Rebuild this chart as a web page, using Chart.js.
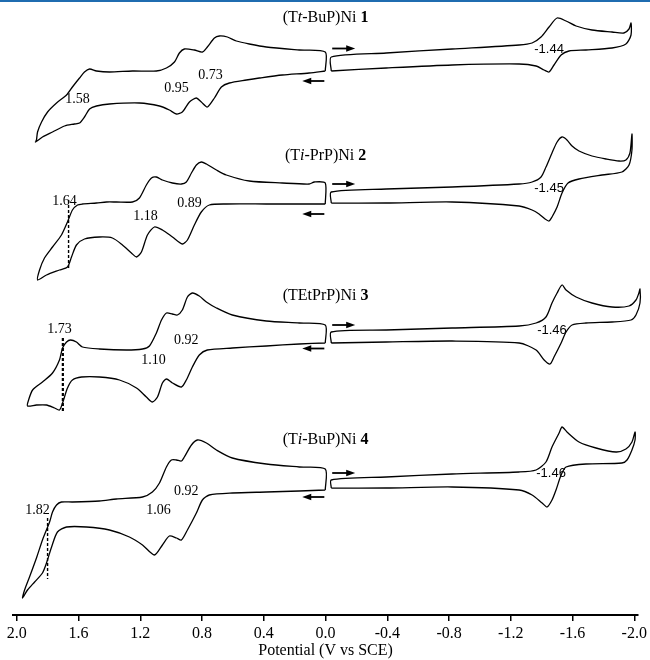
<!DOCTYPE html>
<html>
<head>
<meta charset="utf-8">
<script src="https://cdn.jsdelivr.net/npm/chart.js@4.4.0/dist/chart.umd.min.js"></script>
<style>
  html, body { margin: 0; padding: 0; background: #fff; }
  #wrap { width: 650px; height: 660px; }
</style>
</head>
<body>
<div id="wrap"><canvas id="cv" width="650" height="660"></canvas></div>
<script>
// potential axis ticks (V vs SCE)
const tickValues = [2.0, 1.6, 1.2, 0.8, 0.4, 0.0, -0.4, -0.8, -1.2, -1.6, -2.0];

// current is in arbitrary units, each trace stacked with its own offset
// (Tt-BuP)Ni 1
const t1OxE = [0.002,0.002,0.17,0.384,0.494,0.578,0.636,0.688,0.72,0.766,0.798,0.85,0.915,0.947,0.979,1.031,1.096,1.251,1.4,1.484,1.529,1.562,1.594,1.64,1.678,1.743,1.801,1.84,1.866,1.873,1.879,
  1.834,1.769,1.691,1.627,1.594,1.562,1.529,1.484,1.4,1.206,1.076,1.012,0.966,0.928,0.882,0.837,0.805,0.766,0.72,0.675,0.623,0.513,0.429,0.28,0.106,0.002];
const t1OxI = [54.4,56.3,56.5,56.8,57.1,57.4,57.8,57.9,57.7,56.8,56.3,56.5,56.6,56.2,55.3,54.7,54.4,54.4,54.3,54.4,54.6,54.3,53.7,52.8,52.0,51.2,50.3,49.3,48.3,47.5,47.3,
  47.8,48.3,48.9,49.1,49.2,49.8,50.6,50.9,51.1,51.2,50.9,50.5,50.1,50.3,51.3,51.7,51.3,50.8,51.7,52.8,53.2,53.5,53.7,54.0,54.2,54.4];
const t1RedE = [-0.037,-0.037,-0.393,-0.82,-1.254,-1.338,-1.396,-1.448,-1.5,-1.558,-1.623,-1.726,-1.856,-1.933,-1.966,-1.979,
  -1.979,-1.946,-1.856,-1.687,-1.577,-1.526,-1.48,-1.448,-1.416,-1.364,-1.254,-0.82,-0.393,-0.037];
const t1RedI = [54.4,55.8,56.2,56.6,57.0,57.2,57.8,58.8,59.7,59.4,58.9,58.5,58.3,58.2,58.6,59.2,
  58.0,57.1,56.7,56.5,56.4,56.0,55.0,54.3,54.5,54.9,55.1,55.0,54.7,54.4];

// (Ti-PrP)Ni 2
const t2OxE = [0.002,0.002,0.073,0.106,0.28,0.494,0.643,0.707,0.772,0.805,0.837,0.869,0.902,0.934,0.992,1.057,1.096,1.128,1.161,1.206,1.251,1.355,1.419,1.484,1.575,1.607,1.64,1.672,1.711,1.769,1.821,1.853,1.866,
  1.808,1.724,1.672,1.646,1.614,1.562,1.465,1.381,1.316,1.258,1.225,1.193,1.154,1.109,1.057,0.992,0.928,0.895,0.85,0.805,0.753,0.643,0.384,0.002];
const t2OxI = [41.1,43.2,43.3,43.1,43.2,43.4,44.0,44.5,45.1,45.3,45.0,44.2,43.3,43.1,43.2,43.5,43.8,43.7,43.0,41.7,41.3,41.3,41.3,41.2,41.1,41.0,40.5,39.3,38.0,36.8,35.7,34.5,33.5,
  34.0,34.5,34.8,35.8,37.0,37.6,37.8,37.7,37.0,36.2,35.8,36.3,38.0,38.8,38.5,37.8,37.1,37.5,39.0,40.3,41.0,41.1,41.1,41.1];
const t2RedE = [-0.037,-0.037,-0.393,-0.82,-1.254,-1.338,-1.396,-1.428,-1.467,-1.5,-1.532,-1.564,-1.597,-1.642,-1.726,-1.817,-1.901,-1.946,-1.972,-1.985,
  -1.985,-1.966,-1.92,-1.791,-1.642,-1.571,-1.532,-1.5,-1.467,-1.448,-1.422,-1.383,-1.338,-1.254,-0.82,-0.393,-0.037];
const t2RedI = [41.2,42.3,42.6,42.8,43.1,43.3,43.8,44.8,46.2,47.3,47.8,47.5,46.9,46.4,45.9,45.6,45.4,45.5,46.2,48.1,
  46.5,45.0,44.3,44.0,43.6,43.2,42.2,40.8,39.8,39.4,39.6,40.1,40.5,40.9,41.3,41.2,41.2];

// (TEtPrP)Ni 3
const t3OxE = [0.002,0.002,0.17,0.384,0.604,0.707,0.772,0.818,0.863,0.895,0.928,0.96,0.992,1.031,1.063,1.096,1.141,1.186,1.29,1.465,1.575,1.614,1.652,1.678,1.704,1.724,1.769,1.834,1.898,1.924,1.931,
  1.873,1.808,1.756,1.724,1.704,1.672,1.64,1.581,1.465,1.335,1.225,1.161,1.122,1.089,1.057,1.031,0.992,0.934,0.902,0.863,0.818,0.766,0.604,0.384,0.17,0.002];
const t3OxI = [27.2,29.0,29.2,29.4,30.0,30.7,31.3,31.9,32.2,31.8,30.5,30.0,30.1,30.2,29.5,28.2,26.9,26.6,26.5,26.6,26.8,27.3,27.5,27.3,26.7,25.5,24.2,23.3,22.5,21.5,20.9,
  21.0,21.0,20.7,20.5,21.2,22.7,23.5,23.8,23.8,23.5,22.7,21.8,21.3,21.8,23.2,23.6,23.2,22.8,23.5,24.8,26.0,26.5,26.7,26.9,27.1,27.2];
const t3RedE = [-0.037,-0.037,-0.393,-0.82,-1.254,-1.364,-1.428,-1.467,-1.5,-1.532,-1.558,-1.623,-1.726,-1.856,-1.966,-2.011,-2.03,-2.037,
  -2.037,-2.011,-1.979,-1.856,-1.687,-1.597,-1.558,-1.526,-1.48,-1.454,-1.416,-1.364,-1.254,-0.82,-0.393,-0.037];
const t3RedI = [27.2,28.3,28.5,28.7,28.9,29.2,29.8,31.2,32.2,33.0,32.5,31.8,31.2,30.8,30.9,31.5,32.2,32.6,
  31.2,30.0,29.5,29.3,29.2,29.0,28.3,27.2,25.8,25.1,25.5,26.5,27.2,27.4,27.3,27.2];

// (Ti-BuP)Ni 4
const t4OxE = [0.002,0.002,0.17,0.384,0.604,0.707,0.772,0.83,0.869,0.915,0.934,0.966,0.999,1.031,1.076,1.122,1.186,1.355,1.465,1.64,1.711,1.743,1.769,1.788,1.834,1.873,1.918,1.95,1.963,
  1.931,1.885,1.834,1.808,1.775,1.737,1.678,1.549,1.4,1.271,1.186,1.109,1.057,1.012,0.966,0.934,0.895,0.837,0.798,0.753,0.604,0.384,0.17,0.002];
const t4OxI = [12.5,14.6,14.8,15.1,15.7,16.5,17.2,17.5,17.0,15.8,15.4,15.5,15.5,14.8,13.2,12.3,11.8,11.6,11.4,11.3,11.3,11.0,10.3,9.3,7.5,5.7,3.8,2.5,1.7,
  2.5,3.3,4.2,5.2,6.8,8.3,8.8,8.8,8.5,7.8,7.0,6.0,7.0,7.9,7.7,7.5,8.5,10.2,11.5,12.0,12.2,12.3,12.4,12.5];
const t4RedE = [-0.037,-0.037,-0.393,-0.82,-1.254,-1.364,-1.428,-1.467,-1.513,-1.532,-1.564,-1.642,-1.752,-1.882,-1.946,-1.985,-2.005,
  -2.005,-1.985,-1.953,-1.92,-1.687,-1.558,-1.526,-1.493,-1.467,-1.435,-1.403,-1.338,-1.254,-0.82,-0.393,-0.037];
const t4RedI = [12.7,13.5,13.8,14.1,14.3,14.5,15.3,16.8,18.2,18.8,18.3,17.3,16.7,16.3,16.6,17.3,18.3,
  17.5,16.5,15.5,15.2,15.1,14.8,14.0,12.5,11.5,10.8,11.2,12.0,12.5,12.8,12.7,12.7];

// dashed markers for the irreversible oxidation
const markE = [1.665, 1.702, 1.801];
const markTop = [41.5, 27.7, 9.7];
const markBottom = [34.7, 20.4, 3.6];

// compound names (text pieces: plain / italic / bold)
const names = [
  [["(T", ""], ["t", "italic"], ["-BuP)Ni ", ""], ["1", "bold"]],
  [["(T", ""], ["i", "italic"], ["-PrP)Ni ", ""], ["2", "bold"]],
  [["(TEtPrP)Ni ", ""], ["3", "bold"]],
  [["(T", ""], ["i", "italic"], ["-BuP)Ni ", ""], ["4", "bold"]]
];
const nameE = 0.0;
const nameI = [59.7, 45.9, 31.9, 17.5];

// peak potential labels
const peakText = ["1.58", "0.95", "0.73", "-1.44", "1.64", "1.18", "0.89", "-1.45",
                  "1.73", "1.10", "0.92", "-1.46", "1.82", "1.06", "0.92", "-1.46"];
const peakE = [1.607, 0.966, 0.746, -1.448, 1.691, 1.167, 0.882, -1.448,
               1.724, 1.115, 0.902, -1.467, 1.866, 1.083, 0.902, -1.461];
const peakI = [51.6, 52.7, 54.0, 56.6, 41.35, 39.85, 41.2, 42.65,
               28.6, 25.5, 27.45, 28.45, 10.45, 10.5, 12.35, 14.15];

// scan direction arrows
const fwdI = [56.65, 43.1, 29.0, 14.2];
const backI = [53.4, 40.1, 26.65, 11.8];

function pts(es, is) { return es.map((e, k) => ({ x: e, y: is[k] })); }

const loops = [
  [t1OxE, t1OxI], [t1RedE, t1RedI],
  [t2OxE, t2OxI], [t2RedE, t2RedI],
  [t3OxE, t3OxI], [t3RedE, t3RedI],
  [t4OxE, t4OxI], [t4RedE, t4RedI]
];

const datasets = loops.map(l => ({
  data: pts(l[0], l[1]),
  showLine: true,
  borderColor: '#000',
  borderWidth: 1.3,
  pointRadius: 0,
  tension: 0.25,
  clip: false
}));
markE.forEach((e, k) => {
  datasets.push({
    data: [{ x: e, y: markTop[k] }, { x: e, y: markBottom[k] }],
    showLine: true,
    borderColor: '#000',
    borderWidth: k === 1 ? 2.2 : 1.4,
    borderDash: [3, 2],
    pointRadius: 0,
    clip: false
  });
});

const serif = '"Liberation Serif", "Times New Roman", serif';
const sans = '"Liberation Sans", Arial, sans-serif';

function arrow(ctx, x0, x1, y) {
  const d = Math.sign(x1 - x0);
  ctx.lineWidth = 1.8;
  ctx.beginPath();
  ctx.moveTo(x0, y);
  ctx.lineTo(x1 - d * 6, y);
  ctx.stroke();
  ctx.beginPath();
  ctx.moveTo(x1, y);
  ctx.lineTo(x1 - d * 9, y - 3.2);
  ctx.lineTo(x1 - d * 9, y + 3.2);
  ctx.closePath();
  ctx.fill();
}

const labelPlugin = {
  id: 'cvLabels',
  beforeDraw(chart) {
    const ctx = chart.ctx;
    ctx.save();
    ctx.fillStyle = '#1f6cb0';
    ctx.fillRect(0, 0, chart.width, 2);
    ctx.restore();
  },
  afterDatasetsDraw(chart) {
    const ctx = chart.ctx;
    const xs = chart.scales.x, ys = chart.scales.y;
    ctx.save();
    ctx.fillStyle = '#000';
    ctx.strokeStyle = '#000';
    ctx.textBaseline = 'middle';

    // compound names
    names.forEach((parts, k) => {
      let w = 0;
      parts.forEach(p => { ctx.font = p[1] + ' 16px ' + serif; w += ctx.measureText(p[0]).width; });
      let x = xs.getPixelForValue(nameE) - w / 2;
      const y = ys.getPixelForValue(nameI[k]);
      ctx.textAlign = 'left';
      parts.forEach(p => {
        ctx.font = p[1] + ' 16px ' + serif;
        ctx.fillText(p[0], x, y);
        x += ctx.measureText(p[0]).width;
      });
    });

    // peak labels
    ctx.textAlign = 'center';
    peakText.forEach((t, k) => {
      ctx.font = t.startsWith('-') ? '13px ' + sans : '14px ' + serif;
      ctx.fillText(t, xs.getPixelForValue(peakE[k]), ys.getPixelForValue(peakI[k]));
    });

    // arrows
    fwdI.forEach(i => {
      const y = ys.getPixelForValue(i);
      arrow(ctx, xs.getPixelForValue(-0.043), xs.getPixelForValue(-0.192), y);
    });
    backI.forEach(i => {
      const y = ys.getPixelForValue(i);
      arrow(ctx, xs.getPixelForValue(0.008), xs.getPixelForValue(0.151), y);
    });
    ctx.restore();
  }
};

new Chart(document.getElementById('cv'), {
  type: 'scatter',
  data: { datasets },
  plugins: [labelPlugin],
  options: {
    responsive: false,
    animation: false,
    devicePixelRatio: 1,
    layout: { padding: { left: 13, right: 11, top: 0, bottom: 0 } },
    plugins: { legend: { display: false }, tooltip: { enabled: false } },
    scales: {
      x: {
        type: 'linear',
        reverse: true,
        min: -2.025,
        max: 2.025,
        afterBuildTicks: s => { s.ticks = tickValues.map(v => ({ value: v })); },
        afterFit: s => { s.height = 45; },
        ticks: {
          autoSkip: false,
          maxRotation: 0,
          padding: 3,
          color: '#000',
          font: { family: serif, size: 16 },
          callback: v => v.toFixed(1)
        },
        grid: { drawOnChartArea: false, drawTicks: true, tickLength: 6, color: '#000', lineWidth: 1.5 },
        border: { display: true, color: '#000', width: 2 },
        title: {
          display: true,
          text: 'Potential (V vs SCE)',
          color: '#000',
          font: { family: serif, size: 16 },
          padding: { top: 0, bottom: 0 }
        }
      },
      y: { display: false, min: 0, max: 61.5 }
    }
  }
});
</script>
</body>
</html>
